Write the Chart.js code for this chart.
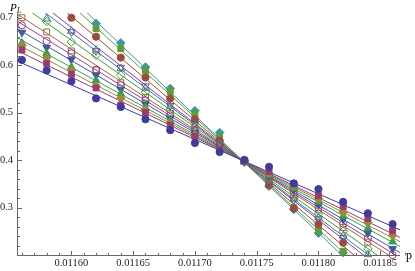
<!DOCTYPE html>
<html>
<head>
<meta charset="utf-8">
<script src="https://cdn.jsdelivr.net/npm/chart.js@4/dist/chart.umd.min.js"></script>
<style>
  html, body { margin: 0; padding: 0; background: #fff; }
  #wrap { width: 415px; height: 271px; }
</style>
</head>
<body>
<div id="wrap"><canvas id="plot" width="415" height="271"></canvas></div>
<script>
// ── DATA ──
// p values of the measured points
const pValues = [0.01156, 0.01158, 0.01160, 0.01162, 0.01164, 0.01166, 0.01168, 0.01170,
                 0.01172, 0.01174, 0.01176, 0.01178, 0.01180, 0.01182, 0.01184, 0.01186];

// P_L for each system size (null = outside the plotted range)
const pL1  = [0.611, 0.589, 0.566, 0.530, 0.512, 0.486, 0.463, 0.436, 0.417, 0.400, 0.386, 0.351, 0.339, 0.312, 0.288, 0.265];
const pL2  = [0.632, 0.604, 0.581, 0.552, 0.516, 0.500, 0.474, 0.450, 0.423, 0.400, 0.376, 0.350, 0.325, 0.302, 0.277, 0.251];
const pL3  = [0.642, 0.616, 0.590, 0.556, 0.530, 0.506, 0.478, 0.452, 0.425, 0.399, 0.372, 0.345, 0.318, 0.290, 0.268, 0.241];
const pL4  = [0.647, 0.625, 0.596, 0.568, 0.540, 0.511, 0.483, 0.454, 0.426, 0.398, 0.369, 0.341, 0.312, 0.282, 0.256, 0.228];
const pL5  = [0.669, 0.637, 0.612, 0.579, 0.549, 0.518, 0.488, 0.458, 0.428, 0.398, 0.367, 0.337, 0.306, 0.275, 0.246, 0.213];
const pL6  = [0.684, 0.651, 0.625, 0.590, 0.558, 0.526, 0.494, 0.461, 0.430, 0.397, 0.365, 0.333, 0.300, 0.266, 0.236, 0.200];
const pL7  = [0.700, 0.670, 0.630, 0.590, 0.563, 0.532, 0.498, 0.464, 0.430, 0.397, 0.362, 0.328, 0.295, 0.258, 0.227, null];
const pL8  = [null, 0.692, 0.649, 0.621, 0.579, 0.543, 0.506, 0.470, 0.433, 0.396, 0.360, 0.323, 0.287, 0.250, 0.213, null];
const pL9  = [null, 0.698, 0.672, 0.632, 0.593, 0.552, 0.513, 0.474, 0.435, 0.396, 0.357, 0.318, 0.279, 0.240, 0.201, null];
const pL10 = [null, null, 0.670, 0.630, 0.595, 0.556, 0.515, 0.476, 0.436, 0.396, 0.356, 0.316, 0.276, 0.236, null, null];
const pL11 = [null, null, 0.700, 0.660, 0.616, 0.574, 0.530, 0.486, 0.441, 0.398, 0.347, 0.298, 0.265, 0.226, null, null];
const pL12 = [null, null, null, 0.677, 0.635, 0.588, 0.545, 0.498, 0.448, 0.398, 0.350, 0.300, 0.252, 0.208, null, null];
const pL13 = [null, null, null, 0.688, 0.647, 0.596, 0.551, 0.504, 0.458, 0.399, 0.345, 0.296, 0.246, 0.205, null, null];

// fitted straight lines: value at the left and right end of the p range
const fitP     = [0.011556, 0.011866];
const fitLeft  = [0.609, 0.631, 0.644, 0.658, 0.677, 0.693, 0.708, 0.733, 0.755, 0.769, 0.800, 0.831, 0.851];
const fitRight = [0.253, 0.237, 0.228, 0.218, 0.205, 0.194, 0.184, 0.166, 0.150, 0.140, 0.118, 0.097, 0.083];

// tick labels
const xTicks = [0.01160, 0.01165, 0.01170, 0.01175, 0.01180, 0.01185];
const yTicks = [0.3, 0.4, 0.5, 0.6, 0.7];

// ── STYLE ──
const allSeries = [pL1, pL2, pL3, pL4, pL5, pL6, pL7, pL8, pL9, pL10, pL11, pL12, pL13];
const colors = ['rgb(63,61,153)', 'rgb(153,61,113)', 'rgb(153,139,61)', 'rgb(61,153,86)',
                'rgb(61,90,153)', 'rgb(153,61,144)', 'rgb(153,109,61)', 'rgb(67,153,61)',
                'rgb(61,121,153)', 'rgb(131,61,153)', 'rgb(153,78,61)', 'rgb(98,153,61)',
                'rgb(61,152,153)'];
const shapes   = ['circle', 'rect', 'rectRot', 'triangle', 'triangle', 'circle', 'rect', 'rectRot', 'triangle', 'triangle', 'circle', 'rect', 'rectRot'];
const rotation = [0, 0, 0, 0, 180, 0, 0, 0, 0, 180, 0, 0, 0];
const filled   = [true, true, true, true, true, false, false, false, false, false, true, true, true];
const radius   = { circle: 3.6, rect: 4.2, rectRot: 4.3, triangle: 4.4 };
const FONT = "'Liberation Serif', 'Times New Roman', serif";

const markerSets = allSeries.map((vals, i) => ({
  data: vals.map((v, k) => ({ x: pValues[k], y: v })),
  showLine: false,
  pointStyle: shapes[i],
  rotation: rotation[i],
  pointRadius: radius[shapes[i]],
  pointBorderWidth: 1,
  pointBorderColor: colors[i],
  pointBackgroundColor: filled[i] ? colors[i] : 'rgba(0,0,0,0)',
  clip: 6,
}));

const lineSets = allSeries.map((_, i) => ({
  data: [{ x: fitP[0], y: fitLeft[i] }, { x: fitP[1], y: fitRight[i] }],
  showLine: true,
  borderColor: colors[i],
  borderWidth: 1,
  pointRadius: 0,
}));

// Mathematica-style axes: thin gray lines, ticks pointing into the plot
const mmaAxes = {
  id: 'mmaAxes',
  beforeDatasetsDraw(chart) {
    const { ctx, chartArea: a, scales: { x, y } } = chart;
    const bx = Math.round(a.left) + 0.5, by = Math.round(a.bottom) + 0.5;
    ctx.save();
    ctx.strokeStyle = '#666';
    ctx.lineWidth = 1;
    ctx.beginPath();
    ctx.moveTo(a.left, by); ctx.lineTo(a.right, by);
    ctx.moveTo(bx, a.top); ctx.lineTo(bx, a.bottom);
    // x minor ticks every 0.00001, major on the labelled values
    for (let k = 0; k <= 31; k++) {
      const px = Math.round(x.getPixelForValue(0.01156 + k * 0.00001)) + 0.5;
      ctx.moveTo(px, by); ctx.lineTo(px, by - 2.5);
    }
    xTicks.forEach(v => {
      const px = Math.round(x.getPixelForValue(v)) + 0.5;
      ctx.moveTo(px, by); ctx.lineTo(px, by - 4.5);
    });
    // y minor ticks every 0.02
    for (let k = 1; k <= 25; k++) {
      const py = Math.round(y.getPixelForValue(0.2 + k * 0.02)) + 0.5;
      ctx.moveTo(bx, py); ctx.lineTo(bx + 2.5, py);
    }
    yTicks.forEach(v => {
      const py = Math.round(y.getPixelForValue(v)) + 0.5;
      ctx.moveTo(bx, py); ctx.lineTo(bx + 4.5, py);
    });
    ctx.stroke();

    // axis labels
    ctx.fillStyle = '#000';
    ctx.textBaseline = 'alphabetic';
    ctx.font = 'italic 11px ' + FONT;
    ctx.fillText('P', 10, 11);
    ctx.font = 'italic 7.5px ' + FONT;
    ctx.fillText('L', 17, 13);
    ctx.font = '12px ' + FONT;
    ctx.fillText('p', 406, 259);
    ctx.restore();
  }
};

new Chart(document.getElementById('plot'), {
  type: 'scatter',
  data: { datasets: [...markerSets, ...lineSets] },
  options: {
    responsive: false,
    animation: false,
    devicePixelRatio: 1,
    layout: { padding: { top: 13, right: 15, left: 0, bottom: 0 } },
    plugins: { legend: { display: false }, tooltip: { enabled: false } },
    scales: {
      x: {
        type: 'linear', min: fitP[0], max: fitP[1],
        grid: { display: false, drawTicks: false }, border: { display: false },
        afterBuildTicks: s => { s.ticks = xTicks.map(v => ({ value: v })); },
        afterFit: s => { s.height = 16; },
        ticks: { callback: v => v.toFixed(5), font: { family: FONT, size: 10.5 }, color: '#222',
                 padding: 2, maxRotation: 0, autoSkip: false },
      },
      y: {
        type: 'linear', min: 0.2, max: 0.71,
        grid: { display: false, drawTicks: false }, border: { display: false },
        afterBuildTicks: s => { s.ticks = yTicks.map(v => ({ value: v })); },
        afterFit: s => { s.width = 17; },
        ticks: { callback: v => v.toFixed(1), font: { family: FONT, size: 10.5 }, color: '#222', padding: 4 },
      }
    }
  },
  plugins: [mmaAxes]
});
</script>
</body>
</html>
